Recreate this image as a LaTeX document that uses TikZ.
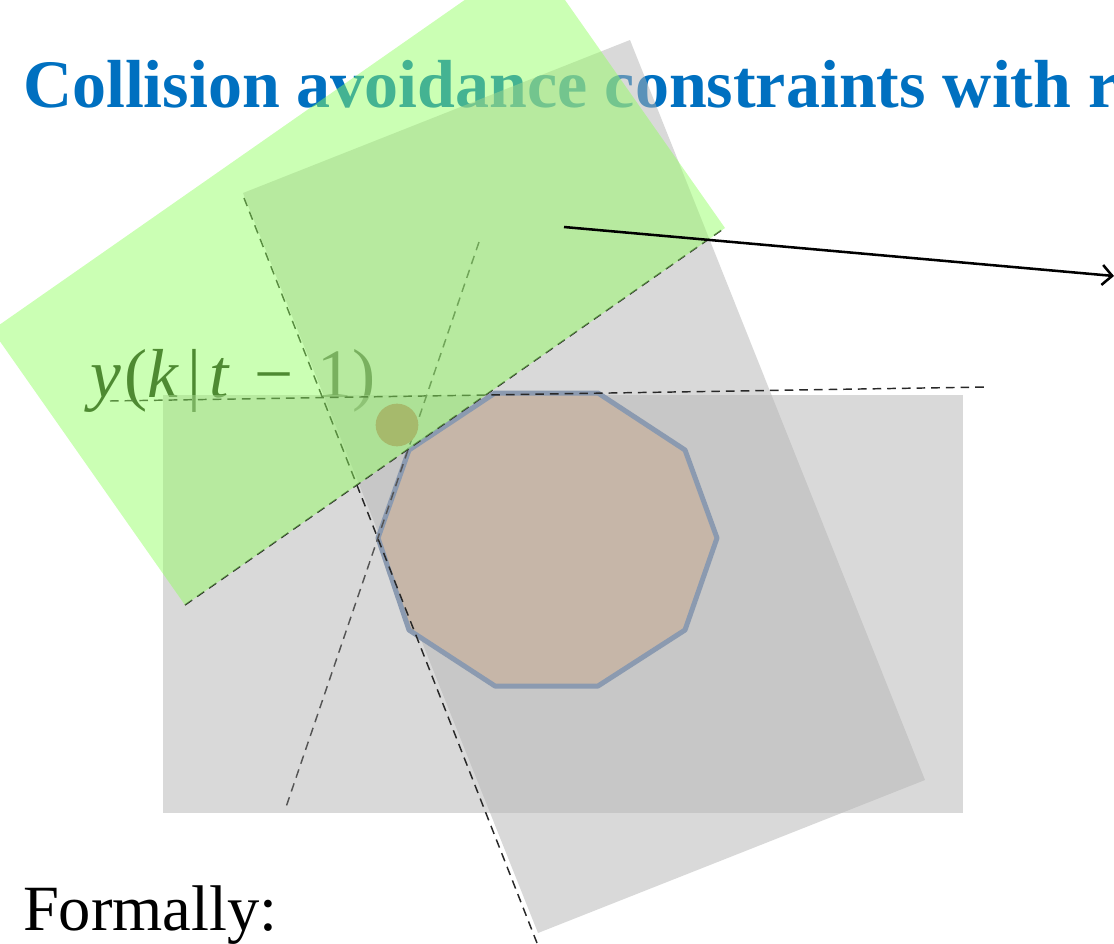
\documentclass[tikz,border=0pt]{standalone}
\usepackage{fontspec}
\setmainfont{Liberation Serif}
\usetikzlibrary{arrows.meta}
\definecolor{titleblue}{RGB}{0,112,192}
\definecolor{boxgray}{RGB}{180,180,180}
\definecolor{zonegreen}{RGB}{145,255,95}
\definecolor{labeldark}{RGB}{20,35,10}
\definecolor{obsfill}{RGB}{198,182,168}
\definecolor{obsedge}{RGB}{139,154,176}
\definecolor{dotolive}{RGB}{166,186,108}
\definecolor{dashdark}{RGB}{40,40,40}
\definecolor{dashmid}{RGB}{85,85,85}
\begin{document}
\begin{tikzpicture}[x=0.75pt,y=-0.75pt,
  graybox/.style={fill=boxgray,fill opacity=0.5,draw=none},
  greenbox/.style={fill=zonegreen,fill opacity=0.47,draw=none},
  tangentline/.style={line width=1.1pt,dash pattern=on 6.5pt off 4.5pt},
  obstacle/.style={fill=obsfill,draw=obsedge,line width=3.75pt,line join=round},
  plaintext/.style={anchor=base west,inner sep=0pt,outer sep=0pt}]
\useasboundingbox (0,0) rectangle (1114,943);
\clip (0,0) rectangle (1114,943);

% texts (drawn first, shapes overlay them)
\node[plaintext,text=titleblue,font=\fontsize{51}{51}\selectfont\bfseries] (title) at (23,107) {Collision avoidance constraints with r};
\node[plaintext,text=labeldark,font=\fontsize{52}{52}\selectfont] (ylabel) at (90,397) {\textit{y}\hspace{0.05em}(\textit{k}\hspace{0.12em}|\hspace{0.12em}\textit{t}\hspace{0.35em}\char"2212\hspace{0.35em}1)};
\node[plaintext,text=black,font=\fontsize{48.4}{48}\selectfont] (formally) at (23,930) {Formally:};

% gray boxes
\fill[graybox] (163,395) rectangle (963,813);
\fill[graybox] (243,193) -- (630,40) -- (925,780) -- (538,933) -- cycle;

% obstacle (decagon)
\draw[obstacle] (495,393) -- (598,393) -- (685,450) -- (717,538) -- (685,630) -- (598,686) -- (495,686) -- (409,630) -- (378,538) -- (409,450) -- cycle;

% tangent lines
\coordinate (h1) at (110,401);
\coordinate (h2) at (985,387);
\coordinate (l1) at (244,198);
\coordinate (l2) at (537,943);
\coordinate (m1) at (479,242);
\coordinate (m2) at (285,810);
\coordinate (d1) at (185,605);
\coordinate (d2) at (726,227);
\draw[tangentline,dashdark] (h1) -- (h2);
\draw[tangentline,dashdark] (l1) -- (l2);
\draw[tangentline,dashmid] (m1) -- (m2);
\draw[tangentline,dashdark] (d1) -- (d2);

% green region
\fill[greenbox] (185,605) -- (725,228) -- (532,-47) -- (-8,330) -- cycle;

% small point
\node[circle,fill=dotolive,draw=none,minimum size=32pt,inner sep=0pt] (pt) at (397,425) {};

% arrow
\coordinate (arrS) at (564,227);
\coordinate (arrE) at (1114,276);
\draw[line width=1.9pt,-{Straight Barb[length=7.5pt,width=15pt]}] (arrS) -- (arrE);
\end{tikzpicture}
\end{document}
